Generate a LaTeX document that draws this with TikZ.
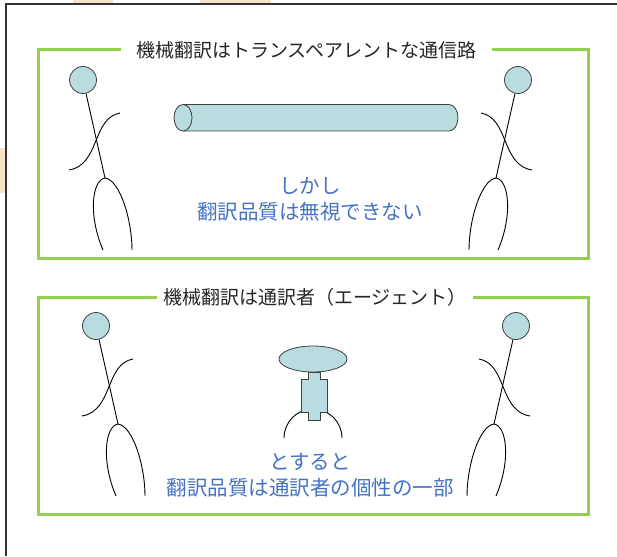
\documentclass[tikz,border=0pt]{standalone}
\usepackage{fontspec}
\setmainfont{Noto Sans CJK JP}
\definecolor{framegray}{HTML}{333333}
\definecolor{slidebeige}{HTML}{F3E5CB}
\definecolor{boxgreen}{HTML}{92D050}
\definecolor{bodyfill}{HTML}{B8DCE0}
\definecolor{outlinegray}{HTML}{404040}
\definecolor{notetext}{HTML}{4472C4}
\definecolor{titletext}{HTML}{262626}
\tikzset{
  limb/.style={line width=0.9pt, black},
  headball/.style={circle, draw=outlinegray, fill=bodyfill, line width=0.8pt, minimum size=27pt, inner sep=0pt},
  partfill/.style={draw=outlinegray, fill=bodyfill, line width=0.8pt},
  greenbox/.style={draw=boxgreen, line width=3pt},
  boxtitle/.style={fill=white, inner xsep=15.5pt, inner ysep=2pt, text=titletext, font=\fontsize{19}{23}\selectfont},
  boxnote/.style={align=center, text=notetext, font=\fontsize{20.5}{26}\selectfont},
  % stick figure, origin at the centre of the head
  stickman/.pic={
    \node[headball] (-head) at (0,0) {};%
    \coordinate (-hip) at (22,98);%
    \draw[limb] (-head) -- (-hip);%
    \draw[limb] (37,33) .. controls (9,38) and (17,85) .. (-14,90);%
    \draw[limb] (20,170) .. controls (5,135) and (9,100) .. (-hip) .. controls (37,100) and (49,140) .. (49,170);%
  }
}
\begin{document}
\begin{tikzpicture}[x=1pt, y=-1pt]
        \useasboundingbox (0,0) rectangle (617,556);
        
        % Slide edges peeking out
        \fill[slidebeige] (73,0) rectangle (113,3);%
        \fill[slidebeige] (200,0) rectangle (271,3);%
        \fill[slidebeige] (0,148) rectangle (5,193);%
        
        % Drawing outer frame
        \draw[framegray, line width=1.5pt] (617,4) -- (6,4) -- (6,556);%
        
        % Upper panel: the pipe
        \draw[greenbox] (38,50) rectangle (588,258);%
        \node[boxtitle] (pipetitle) at (306.5,50) {機械翻訳はトランスペアレントな通信路};%
        \pic (speakerA) at (83,80) {stickman};%
        \pic[xscale=-1] (listenerA) at (518,80) {stickman};%
        
        % Drawing the pipe between them
        \fill[bodyfill] (183,104.5) rectangle (449,131);%
        \fill[bodyfill] (449,117.75) ellipse (9 and 13.25);%
        \draw[outlinegray, line width=0.8pt] (183,104.5) -- (449,104.5) arc (-90:90:9 and 13.25) -- (183,131);%
        \draw[partfill] (183,117.75) ellipse (9 and 13.25);%
        \node[boxnote] (pipenote) at (310,199) {しかし\\翻訳品質は無視できない};%
        
        % Lower panel: the interpreter
        \draw[greenbox] (38,297) rectangle (588,514);%
        \node[boxtitle, inner xsep=6pt, anchor=west] (agenttitle) at (157,297) {機械翻訳は通訳者（エージェント）};%
        \pic (speakerB) at (96,326) {stickman};%
        \pic[xscale=-1] (listenerB) at (516,326) {stickman};%
        
        % Drawing the interpreter in the middle
        \draw[limb] (284,438) arc (180:360:29);%
        \draw[partfill] (308,372) -- (320,372) -- (320,379) -- (327,379) -- (327,412) -- (320,412) -- (320,420)
                     -- (308,420) -- (308,412) -- (301,412) -- (301,379) -- (308,379) -- cycle;%
        \draw[partfill] (313,359) ellipse (34 and 13);%
        \node[boxnote] (agentnote) at (310,475) {とすると\\翻訳品質は通訳者の個性の一部};%
\end{tikzpicture}
\end{document}
